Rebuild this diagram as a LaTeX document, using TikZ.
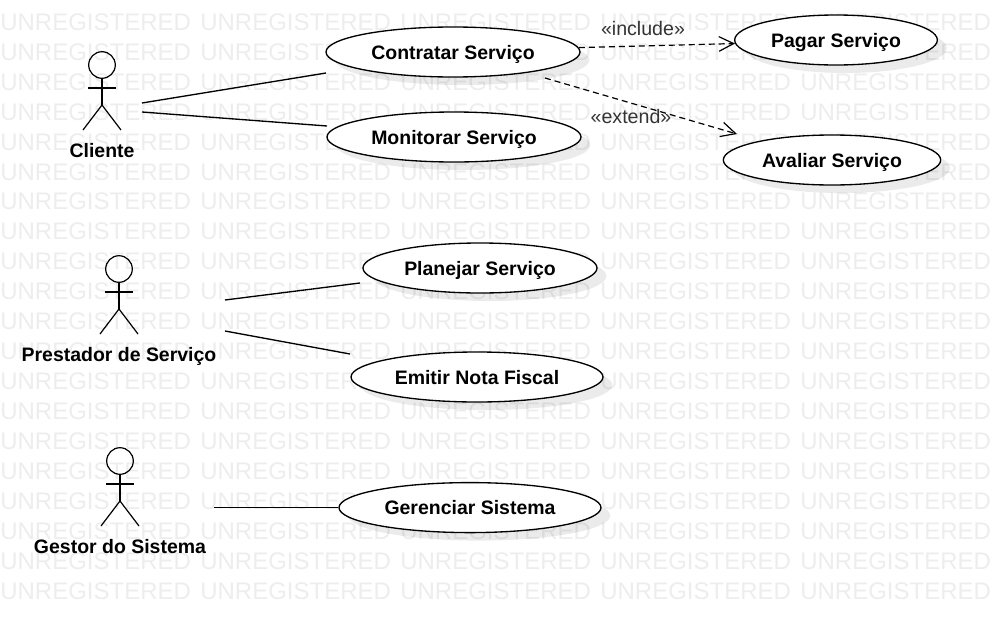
\documentclass[tikz,border=0pt]{standalone}
\usepackage{fontspec}
\setmainfont{Liberation Sans}
\usetikzlibrary{shapes.geometric,arrows.meta,shadows}

\begin{document}
\begin{tikzpicture}[x=0.75pt,y=-0.75pt]
	% Styles for the use cases, actors and connectors
	\tikzset{usecase/.style={
			ellipse,
			draw=black, % black outline
			line width=1pt,
			fill=white,
			inner sep=0pt,
			minimum height=37.5pt,
			text depth=0pt,
			font=\fontsize{14.6}{16}\selectfont\bfseries,
			drop shadow={shadow xshift=7pt,shadow yshift=-6pt,opacity=0.08,fill=black}
	}}
	\tikzset{actorname/.style={font=\fontsize{14.6}{16}\selectfont\bfseries,inner sep=0pt}}
	\tikzset{stereo/.style={font=\fontsize{14.7}{16}\selectfont,text=black!80,inner sep=0pt}}
	\tikzset{assoc/.style={draw=black,line width=1pt}}
	\tikzset{dep/.style={draw=black,line width=0.9pt,dash pattern=on 4.5pt off 3pt,-{Straight Barb[length=11pt,width=11pt]}}}
	\tikzset{watermark/.style={font=\fontsize{18}{20}\selectfont,text=black!7,inner sep=0pt,anchor=west}}
	\tikzset{pics/actor/.style={code={
			\draw[line width=0.9pt] (0,-23) circle [radius=13.3];
			\draw[line width=0.9pt] (0,-10) -- (0,17);
			\draw[line width=0.9pt] (-14,0) -- (14,0);
			\draw[line width=0.9pt] (-19,42) -- (0,17) -- (19,42);
	}}}
	
	\useasboundingbox (0,0) rectangle (1000,625);
	
	% Background text, 5 columns and 20 rows
	\foreach \n in {0,...,19} {
		\foreach \col in {0,...,4} {
			\pgfmathsetmacro{\row}{22+29.95*\n}
			\node[watermark] (mark-\col-\n) at (200*\col, \row) {UNREGISTERED};
		}
	}
	
	% Actors
	\pic at (102,88) {actor};
	\pic at (119,292) {actor};
	\pic at (120,484) {actor};
	\node[actorname] (cliente) at (102,151) {Cliente};
	\node[actorname] (prestador) at (119,356) {Prestador de Serviço};
	\node[actorname] (gestor) at (120,547) {Gestor do Sistema};
	
	% Use cases
	\node[usecase,minimum width=190.5pt] (contratar) at (453,52) {Contratar Serviço};
	\node[usecase,minimum width=190.5pt] (monitorar) at (454,137) {Monitorar Serviço};
	\node[usecase,minimum width=152pt] (pagar) at (836,40) {Pagar Serviço};
	\node[usecase,minimum width=163pt] (avaliar) at (832,160) {Avaliar Serviço};
	\node[usecase,minimum width=175.5pt] (planejar) at (480,268) {Planejar Serviço};
	\node[usecase,minimum width=189pt] (emitir) at (477,377) {Emitir Nota Fiscal};
	\node[usecase,minimum width=196.5pt] (gerenciar) at (470,507.6) {Gerenciar Sistema};
	
	% Free ends of the connectors
	\coordinate (clienteA) at (142,103);
	\coordinate (clienteB) at (142,112);
	\coordinate (contratarIn) at (326,73);
	\coordinate (monitorarIn) at (327,126);
	\coordinate (prestadorA) at (225,300);
	\coordinate (prestadorB) at (225,331);
	\coordinate (planejarIn) at (360,283);
	\coordinate (emitirIn) at (350,354);
	\coordinate (gestorA) at (214,507.6);
	\coordinate (contratarOut) at (545,78);
	\coordinate (avaliarIn) at (737,134);
	
	% Connectors
	\draw[assoc] (clienteA) -- (contratarIn);
	\draw[assoc] (clienteB) -- (monitorarIn);
	\draw[assoc] (prestadorA) -- (planejarIn);
	\draw[assoc] (prestadorB) -- (emitirIn);
	\draw[assoc] (gestorA) -- (gerenciar.west);
	\draw[dep] (contratar.2) -- (pagar.182);
	\draw[dep] (contratarOut) -- (avaliarIn);
	
	% Stereotypes
	\node[stereo] (include) at (643,28) {«include»};
	\node[stereo] (extend) at (631,116) {«extend»};
\end{tikzpicture}
\end{document}
